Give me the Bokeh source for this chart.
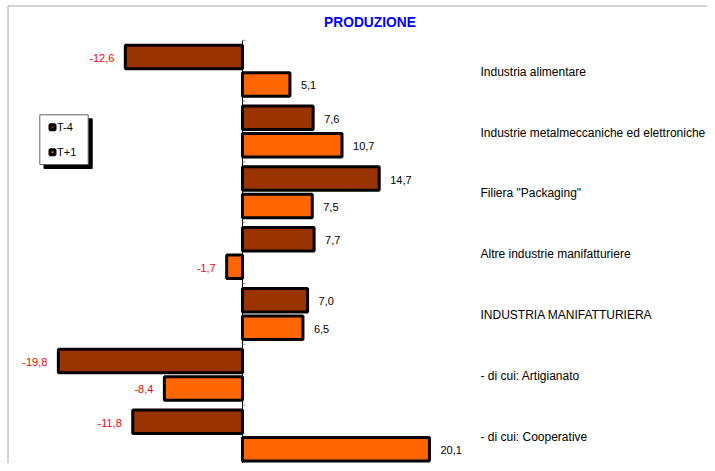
from bokeh.plotting import figure
from bokeh.models import Range1d, ColumnDataSource
from bokeh.core.properties import value
from bokeh.embed import file_html
from bokeh.resources import INLINE

# ---- data ----
categories = [
    "Industria alimentare",
    "Industrie metalmeccaniche ed elettroniche",
    'Filiera "Packaging"',
    "Altre industrie manifatturiere",
    "INDUSTRIA MANIFATTURIERA",
    " - di cui: Artigianato",
    " - di cui: Cooperative",
]
t_minus4 = [-12.6, 7.6, 14.7, 7.7, 7.0, -19.8, -11.8]
t_plus1 = [5.1, 10.7, 7.5, -1.7, 6.5, -8.4, 20.1]
series_names = ["T-4", "T+1"]
title_text = "PRODUZIONE"

# ---- layout ----
W, H = 707, 463
PX_X = 9.3           # pixels per unit on x
ZERO_PX = 242.0      # zero line position in figure px
PITCH = 60.8         # pixels per category
C0_PX = 70.2         # centre of first category in figure px

X0 = -ZERO_PX / PX_X
X1 = X0 + W / PX_X
YT = -C0_PX / PITCH
YB = YT + H / PITCH


def dx(px):
    return X0 + px / PX_X


def dy(py):
    return YT + py / PITCH


FONT = value("Liberation Sans")
C_T4 = "#993300"
C_T1 = "#ff6600"

p = figure(width=W, height=H, x_range=Range1d(X0, X1), y_range=Range1d(YB, YT),
           output_backend="svg", toolbar_location=None,
           x_axis_location=None, y_axis_location=None, min_border=0)
p.outline_line_color = None
p.grid.grid_line_color = None
p.background_fill_color = "white"
p.border_fill_color = "white"

n = len(categories)
idx = list(range(n))
OFF = 13.75 / PITCH
BH = 23.5 / PITCH

# chart border (top and left edges)
p.line(x=[dx(7.5), dx(W)], y=[dy(5.5), dy(5.5)], line_color="#a6a6a6", line_width=1)
p.line(x=[dx(7.5), dx(7.5)], y=[dy(5.5), dy(H)], line_color="#a6a6a6", line_width=1)

# bars
src4 = ColumnDataSource(dict(y=[i - OFF for i in idx], v=t_minus4))
src1 = ColumnDataSource(dict(y=[i + OFF for i in idx], v=t_plus1))
p.hbar(y="y", left=0, right="v", height=BH, source=src4,
       fill_color=C_T4, line_color="black", line_width=3)
p.hbar(y="y", left=0, right="v", height=BH, source=src1,
       fill_color=C_T1, line_color="black", line_width=3)

# zero axis with ticks at category boundaries
p.segment(x0=[0], y0=[-0.5], x1=[0], y1=[n - 0.5], line_color="#000000", line_width=1)
bounds = [i - 0.5 for i in range(n + 1)]
p.segment(x0=[0] * len(bounds), y0=bounds, x1=[3 / PX_X] * len(bounds), y1=bounds,
          line_color="#999999", line_width=1)

# value labels
def label_src(vals, ys):
    return ColumnDataSource(dict(
        x=vals, y=ys,
        t=[f"{v:.1f}".replace(".", ",") for v in vals],
        align=["left" if v >= 0 else "right" for v in vals],
        off=[11 if v >= 0 else -11 for v in vals],
        col=["#000000" if v >= 0 else "#ff0000" for v in vals],
    ))

for vals, ys in ((t_minus4, [i - OFF for i in idx]), (t_plus1, [i + OFF for i in idx])):
    p.text(x="x", y="y", text="t", source=label_src(vals, [y + 1 / PITCH for y in ys]),
           text_align="align", x_offset="off", text_color="col",
           text_baseline="middle", text_font=FONT, text_font_size=value("11px"))

# category labels
p.text(x=[dx(480)] * n, y=[i + 1 / PITCH for i in idx], text=categories,
       text_align="left", text_baseline="middle", text_font=FONT,
       text_font_size=value("12px"), text_color="#000000")

# title
p.text(x=[dx(369.5)], y=[dy(22)], text=[title_text], text_align="center",
       text_baseline="middle", text_font=FONT, text_font_size=value("13.8px"),
       text_font_style="bold", text_color="#0000ff")

# legend (drawn by hand: shadowed box)
p.quad(left=[dx(43.5)], right=[dx(91.7)], top=[dy(118.3)], bottom=[dy(168)],
       fill_color="black", line_color="black")
p.quad(left=[dx(39.3)], right=[dx(87.7)], top=[dy(114.3)], bottom=[dy(164)],
       fill_color="white", line_color="#666666", line_width=1)
leg_y = [dy(126.7), dy(151.7)]
p.scatter(x=[dx(52)] * 2, y=leg_y, marker="square", size=5,
          fill_color=[C_T4, C_T1], line_color="black", line_width=3)
p.text(x=[dx(56.5)] * 2, y=leg_y, text=series_names, text_align="left",
       text_baseline="middle", text_font=FONT, text_font_size=value("11px"),
       text_color="#000000")

open("out.html", "w").write(file_html(p, INLINE))
